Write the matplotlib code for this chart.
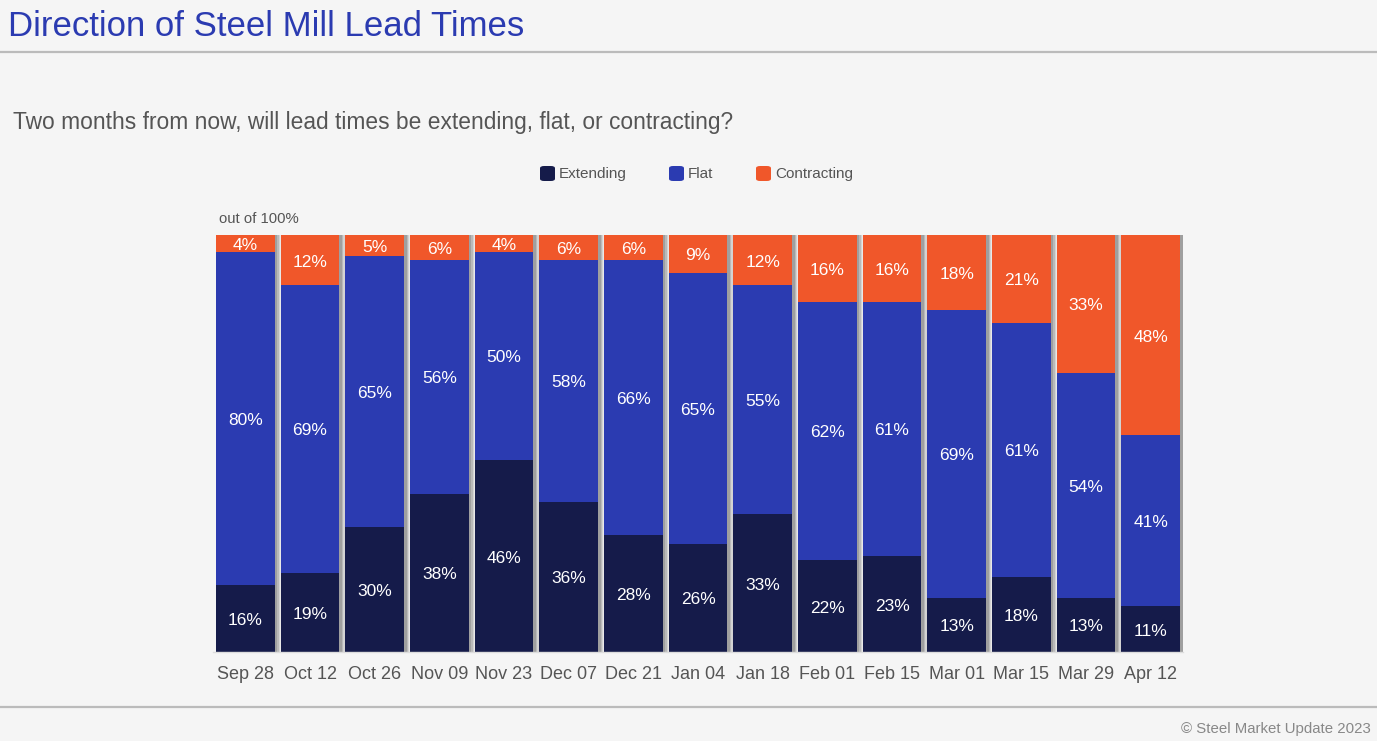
import numpy as np
import matplotlib.pyplot as plt
import matplotlib.transforms as mtransforms
from matplotlib.patches import FancyBboxPatch
from matplotlib.lines import Line2D

plt.rcParams['font.family'] = ['Liberation Sans', 'DejaVu Sans']

dates = ["Sep 28", "Oct 12", "Oct 26", "Nov 09", "Nov 23", "Dec 07", "Dec 21",
         "Jan 04", "Jan 18", "Feb 01", "Feb 15", "Mar 01", "Mar 15", "Mar 29", "Apr 12"]
extending   = [16, 19, 30, 38, 46, 36, 28, 26, 33, 22, 23, 13, 18, 13, 11]
flat        = [80, 69, 65, 56, 50, 58, 66, 65, 55, 62, 61, 69, 61, 54, 41]
contracting = [4, 12, 5, 6, 4, 6, 6, 9, 12, 16, 16, 18, 21, 33, 48]

C_EXT = "#151b4a"
C_FLAT = "#2b3bb1"
C_CON = "#f0572a"
BG = "#f5f5f5"

W, H = 1377, 741
fig = plt.figure(figsize=(W / 100, H / 100), dpi=100, facecolor=BG)

# axes in pixel coords
left, right, top, bottom = 213, 1183, 235, 652
ax = fig.add_axes([left / W, 1 - bottom / H, (right - left) / W, (bottom - top) / H])
ax.set_facecolor(BG)

x = np.arange(len(dates))
ext = np.array(extending)
fl = np.array(flat)
con = np.array(contracting)
bw = 0.91

# soft shadow on right side of bars
for off, a in [(0.10, 0.10), (0.08, 0.18), (0.06, 0.28), (0.04, 0.38)]:
    ax.bar(x + off, ext + fl + con, bw, color="#777777", alpha=a, zorder=1, linewidth=0)

ax.bar(x, ext, bw, color=C_EXT, zorder=2, linewidth=0)
ax.bar(x, fl, bw, bottom=ext, color=C_FLAT, zorder=2, linewidth=0)
ax.bar(x, con, bw, bottom=ext + fl, color=C_CON, zorder=2, linewidth=0)

lbl_tr = ax.transData + mtransforms.ScaledTranslation(0, -2 / 100, fig.dpi_scale_trans)
for i in range(len(dates)):
    for base, val in [(0, ext[i]), (ext[i], fl[i]), (ext[i] + fl[i], con[i])]:
        ax.text(x[i], base + val / 2, f"{val}%", ha="center", va="center",
                color="white", fontsize=12.5, zorder=3, transform=lbl_tr)

ax.set_xlim(-0.5, len(dates) - 0.5)
ax.set_ylim(0, 100)
ax.set_yticks([])
ax.set_xticks(x)
ax.set_xticklabels(dates, fontsize=13, color="#555555")
ax.tick_params(axis="x", length=0, pad=10)
for s in ["top", "right", "left"]:
    ax.spines[s].set_visible(False)
ax.spines["bottom"].set_color("#dddddd")
ax.spines["bottom"].set_linewidth(1)

# title and texts
fig.text(8 / W, 1 - 27 / H, "Direction of Steel Mill Lead Times", color="#2b3bb1",
         fontsize=25, va="center", ha="left")
fig.add_artist(Line2D([0, 1], [1 - 51.5 / H] * 2, color="#bbbbbb", lw=1.6))
fig.text(13 / W, 1 - 123 / H, "Two months from now, will lead times be extending, flat, or contracting?",
         color="#555555", fontsize=16.4, va="center", ha="left")
fig.text(219 / W, 1 - 219 / H, "out of 100%", color="#555555", fontsize=10.7, va="center", ha="left")
fig.add_artist(Line2D([0, 1], [1 - 706.5 / H] * 2, color="#bbbbbb", lw=1.6))
fig.text(1371 / W, 1 - 729 / H, "\u00a9 Steel Market Update 2023", color="#888888",
         fontsize=10.8, va="center", ha="right")

# legend
legend_items = [("Extending", C_EXT, 540), ("Flat", C_FLAT, 669), ("Contracting", C_CON, 756)]
for name, col, px in legend_items:
    sq = FancyBboxPatch(((px) / W, 1 - 181 / H), 15 / W, 15 / H,
                        boxstyle="round,pad=0,rounding_size=0.003", transform=fig.transFigure,
                        facecolor=col, edgecolor="none")
    fig.add_artist(sq)
    fig.text((px + 19) / W, 1 - 174 / H, name, color="#555555", fontsize=11,
             va="center", ha="left")

fig.savefig("out.png", dpi=100, facecolor=BG)
